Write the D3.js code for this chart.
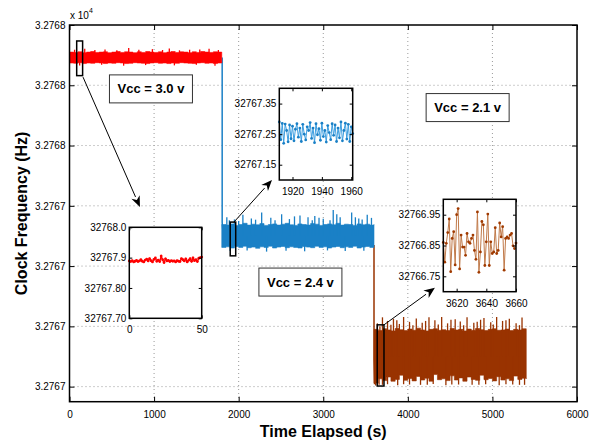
<!DOCTYPE html>
<html><head><meta charset="utf-8">
<script src="https://cdn.jsdelivr.net/npm/d3@7"></script>
<style>
body{margin:0;background:#fff;}
svg{display:block;font-family:"Liberation Sans",Arial,Helvetica,sans-serif;}
</style></head>
<body><svg id="c" width="602" height="442"></svg>
<script>
// ---------- data ----------
const xTicks = [0,1000,2000,3000,4000,5000,6000];
const xTickLabels = ["0","1000","2000","3000","4000","5000","6000"];
const yTicks = [32766.8,32767.0,32767.2,32767.4,32767.6,32767.8,32768.0];
const yTickLabels = ["3.2767","3.2767","3.2767","3.2767","3.2768","3.2768","3.2768"];

const segStarts = [0,1800,3600];
const envOffsets = [0,50,100,150,200,250,300,350,400,450,500,550,600,650,700,750,800,850,900,950,1000,1050,1100,1150,1200,1250,1300,1350,1400,1450,1500,1550,1600,1650,1700,1750,1800];

const redUpper = [32767.910,32767.909,32767.911,32767.908,32767.910,32767.912,32767.909,32767.910,32767.911,32767.908,32767.910,32767.912,32767.909,32767.911,32767.910,32767.908,32767.911,32767.909,32767.912,32767.910,32767.909,32767.911,32767.908,32767.910,32767.912,32767.909,32767.911,32767.910,32767.908,32767.911,32767.909,32767.912,32767.910,32767.909,32767.911,32767.910,32767.910];
const redLower = [32767.874,32767.873,32767.875,32767.872,32767.874,32767.873,32767.875,32767.874,32767.872,32767.874,32767.873,32767.875,32767.874,32767.872,32767.873,32767.875,32767.874,32767.873,32767.872,32767.874,32767.875,32767.873,32767.874,32767.872,32767.874,32767.873,32767.875,32767.874,32767.873,32767.872,32767.874,32767.875,32767.873,32767.874,32767.872,32767.874,32767.874];
const blueUpper = [32767.338,32767.336,32767.340,32767.335,32767.338,32767.342,32767.336,32767.339,32767.337,32767.341,32767.335,32767.338,32767.340,32767.336,32767.339,32767.342,32767.337,32767.335,32767.340,32767.338,32767.336,32767.341,32767.339,32767.335,32767.338,32767.340,32767.337,32767.342,32767.336,32767.339,32767.338,32767.335,32767.340,32767.337,32767.339,32767.336,32767.338];
const blueLower = [32767.262,32767.264,32767.260,32767.265,32767.262,32767.266,32767.261,32767.263,32767.259,32767.264,32767.262,32767.266,32767.260,32767.263,32767.265,32767.261,32767.264,32767.262,32767.260,32767.265,32767.263,32767.261,32767.266,32767.262,32767.264,32767.260,32767.263,32767.265,32767.261,32767.264,32767.262,32767.266,32767.260,32767.263,32767.265,32767.262,32767.262];
const brownUpper = [32766.990,32766.986,32766.992,32766.988,32766.985,32766.993,32766.989,32766.986,32766.991,32766.987,32766.994,32766.988,32766.985,32766.990,32766.992,32766.987,32766.989,32766.986,32766.993,32766.988,32766.990,32766.985,32766.991,32766.987,32766.993,32766.989,32766.986,32766.990,32766.992,32766.987,32766.988,32766.991,32766.986,32766.990,32766.988,32766.992,32766.990];
const brownLower = [32766.812,32766.826,32766.820,32766.832,32766.818,32766.824,32766.838,32766.821,32766.827,32766.819,32766.834,32766.822,32766.828,32766.818,32766.840,32766.823,32766.826,32766.820,32766.836,32766.822,32766.829,32766.818,32766.832,32766.824,32766.821,32766.838,32766.823,32766.827,32766.819,32766.833,32766.822,32766.826,32766.820,32766.835,32766.824,32766.828,32766.826];

const redSpikeUpT = [60,180,300,420,560,700,820,980,1100,1180,1300,1420,1540,1650,1760];
const redSpikeUpV = [32767.918,32767.921,32767.917,32767.919,32767.916,32767.924,32767.918,32767.920,32767.917,32767.922,32767.916,32767.918,32767.919,32767.921,32767.917];
const redSpikeDnT = [120,380,640,900,1240,1500,1720];
const redSpikeDnV = [32767.866,32767.868,32767.865,32767.867,32767.866,32767.868,32767.865];
const blueSpikeUpT = [1860,1890,1950,2000,2050,2150,2200,2272,2380,2430,2508,2600,2660,2725,2820,2870,2900,2950,3000,3080,3118,3160,3200,3336,3380,3420,3460,3520,3570];
const blueSpikeUpV = [32767.362,32767.352,32767.355,32767.350,32767.370,32767.358,32767.354,32767.378,32767.360,32767.352,32767.372,32767.356,32767.365,32767.368,32767.362,32767.352,32767.366,32767.360,32767.357,32767.352,32767.386,32767.372,32767.362,32767.378,32767.362,32767.358,32767.355,32767.370,32767.360];
const blueSpikeDnT = [1900,2100,2330,2560,2780,3050,3260,3480];
const blueSpikeDnV = [32767.250,32767.252,32767.248,32767.251,32767.249,32767.252,32767.250,32767.251];
const brownSpikeUpT = [3640,3670,3700,3760,3800,3830,3870,3900,3950,4020,4060,4100,4170,4210,4250,4320,4360,4400,4470,4510,4560,4620,4660,4700,4780,4820,4860,4900,4980,5010,5050,5120,5160,5200,5280,5320,5350];
const brownSpikeUpV = [32767.010,32767.000,32767.030,32767.018,32767.005,32767.025,32767.020,32767.008,32767.031,32767.015,32767.004,32767.026,32767.012,32767.018,32767.030,32767.020,32767.006,32767.031,32767.010,32767.022,32767.024,32767.016,32767.004,32767.030,32767.012,32767.015,32767.022,32767.028,32767.014,32767.006,32767.031,32767.018,32767.020,32767.025,32767.010,32767.004,32767.029];
const brownSpikeDnT = [3620,3660,3700,3760,3880,3950,4020,4150,4230,4300,4450,4520,4600,4760,4840,4920,5080,5160,5240,5320,5380];
const brownSpikeDnV = [32766.804,32766.806,32766.806,32766.808,32766.805,32766.808,32766.807,32766.806,32766.806,32766.809,32766.805,32766.807,32766.807,32766.806,32766.806,32766.808,32766.805,32766.808,32766.807,32766.806,32766.806];

const blueDropT = [1805,1805,1815];
const blueDropV = [32767.892,32767.345,32767.310];
const brownDropT = [3600,3600,3606,3612];
const brownDropV = [32767.270,32766.890,32766.808,32766.830];

// inset series
const redInsetT = [0,1,2,3,4,5,6,7,8,9,10,11,12,13,14,15,16,17,18,19,20,21,22,23,24,25,26,27,28,29,30,31,32,33,34,35,36,37,38,39,40,41,42,43,44,45,46,47,48,49,50];
const redInsetV = [32767.889,32767.887,32767.890,32767.886,32767.888,32767.891,32767.887,32767.889,32767.893,32767.888,32767.886,32767.892,32767.895,32767.889,32767.897,32767.890,32767.886,32767.894,32767.899,32767.888,32767.892,32767.887,32767.905,32767.893,32767.884,32767.896,32767.889,32767.891,32767.887,32767.890,32767.888,32767.889,32767.886,32767.890,32767.888,32767.887,32767.897,32767.893,32767.889,32767.896,32767.886,32767.891,32767.897,32767.888,32767.899,32767.890,32767.893,32767.887,32767.898,32767.900,32767.902];
const blueInsetT = [1911,1912,1913,1914,1915,1916,1917,1918,1919,1920,1921,1922,1923,1924,1925,1926,1927,1928,1929,1930,1931,1932,1933,1934,1935,1936,1937,1938,1939,1940,1941,1942,1943,1944,1945,1946,1947,1948,1949,1950,1951,1952,1953,1954,1955,1956,1957,1958,1959,1960,1961];
const blueInsetV = [32767.290,32767.232,32767.285,32767.220,32767.283,32767.262,32767.225,32767.280,32767.235,32767.276,32767.228,32767.266,32767.284,32767.240,32767.270,32767.226,32767.282,32767.250,32767.231,32767.274,32767.262,32767.288,32767.236,32767.270,32767.222,32767.284,32767.248,32767.268,32767.230,32767.286,32767.242,32767.262,32767.224,32767.278,32767.255,32767.232,32767.284,32767.246,32767.280,32767.226,32767.270,32767.238,32767.290,32767.228,32767.262,32767.286,32767.234,32767.282,32767.226,32767.274,32767.252];
const brownInsetT = [3611,3612,3613,3614,3615,3616,3617,3618,3619,3620,3621,3622,3623,3624,3625,3626,3627,3628,3629,3630,3631,3632,3633,3634,3635,3636,3637,3638,3639,3640,3641,3642,3643,3644,3645,3646,3647,3648,3649,3650,3651,3652,3653,3654,3655,3656,3657,3658,3659,3660];
const brownInsetV = [32766.860,32766.796,32766.857,32766.892,32766.936,32766.765,32766.873,32766.895,32766.787,32766.950,32766.970,32766.774,32766.884,32766.845,32766.845,32766.818,32766.889,32766.862,32766.857,32766.873,32766.884,32766.834,32766.805,32766.959,32766.763,32766.829,32766.928,32766.917,32766.785,32766.862,32766.952,32766.785,32766.862,32766.824,32766.829,32766.908,32766.824,32766.834,32766.923,32766.878,32766.911,32766.770,32766.873,32766.878,32766.873,32766.884,32766.889,32766.849,32766.840,32766.858];

const redInsetYTicks = [32767.7,32767.8,32767.9,32768.0];
const redInsetYLabels = ["32767.70","32767.80","32767.9","32768.0"];
const redInsetXTicks = [0,50];
const blueInsetYTicks = [32767.15,32767.25,32767.35];
const blueInsetYLabels = ["32767.15","32767.25","32767.35"];
const blueInsetXTicks = [1920,1940,1960];
const brownInsetYTicks = [32766.75,32766.85,32766.95];
const brownInsetYLabels = ["32766.75","32766.85","32766.95"];
const brownInsetXTicks = [3620,3640,3660];

const vccLabels = ["Vcc = 3.0 v","Vcc = 2.4 v","Vcc = 2.1 v"];

// ---------- layout ----------
const svg = d3.select("#c");
const X0 = 69.5, X1 = 577, Y0 = 25, Y1 = 401.7;
const x = d3.scaleLinear().domain([0,6000]).range([X0,X1]);
const y = d3.scaleLinear().domain([32766.75,32768.0]).range([Y1,Y0]);

const colors = {red:"#ff0000", blue:"#1a80c6", brown:"#993300"};

// grid
const grid = svg.append("g").attr("stroke","#9a9a9a").attr("stroke-width",1).attr("stroke-dasharray","1,3");
xTicks.slice(1,-1).forEach(t=>grid.append("line").attr("x1",x(t)).attr("x2",x(t)).attr("y1",Y0).attr("y2",Y1));
yTicks.slice(0,-1).forEach(v=>grid.append("line").attr("x1",X0).attr("x2",X1).attr("y1",y(v)).attr("y2",y(v)));

// bands
const segs = [
  {start:segStarts[0], up:redUpper, lo:redLower, c:colors.red, uT:redSpikeUpT, uV:redSpikeUpV, dT:redSpikeDnT, dV:redSpikeDnV},
  {start:segStarts[1], up:blueUpper, lo:blueLower, c:colors.blue, uT:blueSpikeUpT, uV:blueSpikeUpV, dT:blueSpikeDnT, dV:blueSpikeDnV},
  {start:segStarts[2], up:brownUpper, lo:brownLower, c:colors.brown, uT:brownSpikeUpT, uV:brownSpikeUpV, dT:brownSpikeDnT, dV:brownSpikeDnV}
];
const area = d3.area().x(d=>x(d.t)).y0(d=>y(d.lo)).y1(d=>y(d.hi)).curve(d3.curveStepAfter);
const line = d3.line().x(d=>x(d[0])).y(d=>y(d[1]));

svg.append("path").datum(blueDropT.map((t,i)=>[t,blueDropV[i]])).attr("d",line).attr("fill","none").attr("stroke",colors.blue).attr("stroke-width",1.5);
svg.append("path").datum(brownDropT.map((t,i)=>[t,brownDropV[i]])).attr("d",line).attr("fill","none").attr("stroke",colors.brown).attr("stroke-width",1.5);

segs.forEach(s=>{
  const d = envOffsets.map((o,i)=>({t:s.start+o, hi:s.up[i], lo:s.lo[i]}));
  svg.append("path").datum(d).attr("d",area).attr("fill",s.c).attr("stroke",s.c).attr("stroke-width",0.6);
  const mid = (s.up[0]+s.lo[0])/2;
  const sp = s.uT.map((t,i)=>[t,s.uV[i]]).concat(s.dT.map((t,i)=>[t,s.dV[i]]));
  svg.append("g").selectAll("line").data(sp).join("line")
    .attr("x1",d=>x(d[0])).attr("x2",d=>x(d[0])).attr("y1",y(mid)).attr("y2",d=>y(d[1]))
    .attr("stroke",s.c).attr("stroke-width",1.3);
});

// frame + axes
const axG = svg.append("g").attr("font-size",11);
axG.append("g").attr("transform",`translate(0,${Y1})`)
  .call(d3.axisBottom(x).tickValues(xTicks).tickFormat((d,i)=>xTickLabels[i]).tickSizeInner(-5).tickSizeOuter(0).tickPadding(9));
axG.append("g").attr("transform",`translate(0,${Y0})`)
  .call(d3.axisTop(x).tickValues(xTicks).tickFormat("").tickSizeInner(-5).tickSizeOuter(0));
axG.append("g").attr("transform",`translate(${X0},0)`)
  .call(d3.axisLeft(y).tickValues(yTicks).tickFormat((d,i)=>yTickLabels[i]).tickSizeInner(-5).tickSizeOuter(0).tickPadding(4));
axG.append("g").attr("transform",`translate(${X1},0)`)
  .call(d3.axisRight(y).tickValues(yTicks).tickFormat("").tickSizeInner(-5).tickSizeOuter(0));
axG.selectAll(".domain").remove();
axG.selectAll(".tick line").attr("stroke","#000");
axG.selectAll("text").attr("fill","#000").attr("font-family","Liberation Sans, Arial, sans-serif");
svg.append("rect").attr("x",X0).attr("y",Y0).attr("width",X1-X0).attr("height",Y1-Y0)
  .attr("fill","none").attr("stroke","#000").attr("stroke-width",1.5);

svg.append("text").attr("x",70).attr("y",19).attr("font-size",10).text("x 10");
svg.append("text").attr("x",89).attr("y",13).attr("font-size",7).text("4");

svg.append("text").attr("x",(X0+X1)/2).attr("y",437).attr("text-anchor","middle")
  .attr("font-size",16).attr("font-weight","bold").text("Time Elapsed (s)");
svg.append("text").attr("transform",`translate(27,${(Y0+Y1)/2}) rotate(-90)`).attr("text-anchor","middle")
  .attr("font-size",16).attr("font-weight","bold").text("Clock Frequency (Hz)");

// marker rectangles (data coords) and arrows
const markers = [
  {t0:85, t1:155, v0:32767.832, v1:32767.947, from:[160,32767.827], to:[833,32767.396]},
  {t0:1900, t1:1965, v0:32767.234, v1:32767.346, from:[1944,32767.346], to:[2394,32767.486]},
  {t0:3638, t1:3718, v0:32766.802, v1:32767.005, from:[3718,32767.005], to:[4320,32767.128]}
];
markers.forEach(m=>{
  svg.append("rect").attr("x",x(m.t0)).attr("y",y(m.v1)).attr("width",x(m.t1)-x(m.t0)).attr("height",y(m.v0)-y(m.v1))
    .attr("fill","none").attr("stroke","#000").attr("stroke-width",1.5);
  const x1=x(m.from[0]), y1=y(m.from[1]), x2=x(m.to[0]), y2=y(m.to[1]);
  const ang = Math.atan2(y2-y1,x2-x1), L=11, W=4.5;
  const bx = x2-L*Math.cos(ang), by = y2-L*Math.sin(ang);
  svg.append("line").attr("x1",x1).attr("y1",y1).attr("x2",bx).attr("y2",by).attr("stroke","#000").attr("stroke-width",1);
  svg.append("path").attr("d",`M${x2},${y2}L${bx+W*Math.sin(ang)},${by-W*Math.cos(ang)}L${bx+L*0.3*Math.cos(ang)},${by+L*0.3*Math.sin(ang)}L${bx-W*Math.sin(ang)},${by+W*Math.cos(ang)}Z`).attr("fill","#000");
});

// insets
const insets = [
  {box:[129.3,227.3,201.7,318.3], xd:[0,50], yd:[32767.7,32768.0], T:redInsetT, V:redInsetV,
   xt:redInsetXTicks, yt:redInsetYTicks, yl:redInsetYLabels, lc:"#ff0000", dc:"#ff0000", lw:1.4},
  {box:[279.3,88.3,352.7,180], xd:[1911,1961], yd:[32767.1,32767.4], T:blueInsetT, V:blueInsetV,
   xt:blueInsetXTicks, yt:blueInsetYTicks, yl:blueInsetYLabels, lc:"#3d9ee0", dc:"#1a80c6", lw:1},
  {box:[443.3,199.3,516,291.7], xd:[3611,3660], yd:[32766.7,32767.0], T:brownInsetT, V:brownInsetV,
   xt:brownInsetXTicks, yt:brownInsetYTicks, yl:brownInsetYLabels, lc:"#c07a4a", dc:"#a03a00", lw:1}
];
insets.forEach(s=>{
  const [l,t,r,b] = s.box;
  const ix = d3.scaleLinear().domain(s.xd).range([l,r]);
  const iy = d3.scaleLinear().domain(s.yd).range([b,t]);
  const g = svg.append("g");
  g.append("rect").attr("x",l).attr("y",t).attr("width",r-l).attr("height",b-t).attr("fill","#fff");
  const pts = s.T.map((tt,i)=>[tt,s.V[i]]);
  g.append("path").datum(pts).attr("d",d3.line().x(d=>ix(d[0])).y(d=>iy(d[1])))
    .attr("fill","none").attr("stroke",s.lc).attr("stroke-width",s.lw);
  g.selectAll("circle").data(pts).join("circle").attr("cx",d=>ix(d[0])).attr("cy",d=>iy(d[1])).attr("r",1.4).attr("fill",s.dc);
  const ag = g.append("g").attr("font-size",11);
  ag.append("g").attr("transform",`translate(0,${b})`)
    .call(d3.axisBottom(ix).tickValues(s.xt).tickFormat(d3.format("d")).tickSizeInner(-3).tickSizeOuter(0).tickPadding(8));
  ag.append("g").attr("transform",`translate(0,${t})`)
    .call(d3.axisTop(ix).tickValues(s.xt).tickFormat("").tickSizeInner(-3).tickSizeOuter(0));
  ag.append("g").attr("transform",`translate(${l},0)`)
    .call(d3.axisLeft(iy).tickValues(s.yt).tickFormat((d,i)=>s.yl[i]).tickSizeInner(-3).tickSizeOuter(0).tickPadding(3));
  ag.append("g").attr("transform",`translate(${r},0)`)
    .call(d3.axisRight(iy).tickValues(s.yt).tickFormat("").tickSizeInner(-3).tickSizeOuter(0));
  ag.selectAll(".domain").remove();
  ag.selectAll(".tick line").attr("stroke","#000");
  ag.selectAll("text").attr("fill","#000").attr("font-family","Liberation Sans, Arial, sans-serif");
  g.append("rect").attr("x",l).attr("y",t).attr("width",r-l).attr("height",b-t).attr("fill","none").attr("stroke","#000").attr("stroke-width",1.5);
});

// Vcc text boxes (centres in data coords)
const vccPos = [[963,32767.788],[2730,32767.147],[4707,32767.726]];
vccLabels.forEach((txt,i)=>{
  const cx = x(vccPos[i][0]), cy = y(vccPos[i][1]);
  const w=83, h=28;
  svg.append("rect").attr("x",cx-w/2).attr("y",cy-h/2).attr("width",w).attr("height",h)
    .attr("fill","#fff").attr("stroke","#333").attr("stroke-width",1);
  svg.append("text").attr("x",cx).attr("y",cy+4.5).attr("text-anchor","middle")
    .attr("font-size",13).attr("font-weight","bold").text(txt);
});
</script></body></html>
